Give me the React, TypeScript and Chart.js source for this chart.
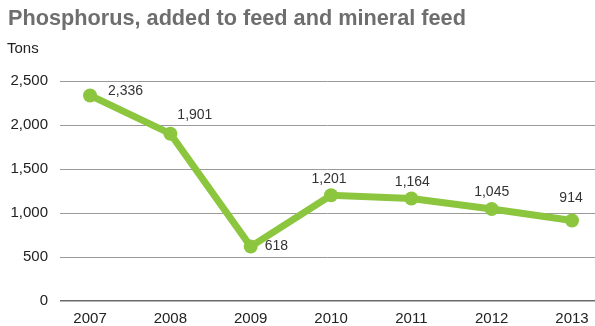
import React, { useEffect, useRef } from "react";
import { Chart, registerables } from "chart.js";

Chart.register(...registerables);

const years = ["2007", "2008", "2009", "2010", "2011", "2012", "2013"];
const phosphorusTons = [2336, 1901, 618, 1201, 1164, 1045, 914];
const valueLabels = ["2,336", "1,901", "618", "1,201", "1,164", "1,045", "914"];
const yTicks = [0, 500, 1000, 1500, 2000, 2500];

const title = "Phosphorus, added to feed and mineral feed";
const unitLabel = "Tons";

// label placement (style): [dx, dy, align]
const labelOffsets: [number, number, CanvasTextAlign][] = [
  [18, -4, "left"],
  [7, -19, "left"],
  [14, 0, "left"],
  [-2, -16, "center"],
  [1, -16, "center"],
  [0, -17, "center"],
  [-1, -22, "center"],
];

const FONT = "'Liberation Sans', Arial, Helvetica, sans-serif";

const labelPlugin = {
  id: "valueLabels",
  afterDatasetsDraw(chart: any) {
    const meta = chart.getDatasetMeta(0);
    const ctx = chart.ctx;
    ctx.save();
    ctx.font = `14px ${FONT}`;
    ctx.fillStyle = "#333333";
    ctx.textBaseline = "middle";
    meta.data.forEach((pt: any, i: number) => {
      const [dx, dy, align] = labelOffsets[i];
      ctx.textAlign = align;
      ctx.fillText(valueLabels[i], pt.x + dx, pt.y + dy);
    });
    ctx.restore();
  },
};

export default function App() {
  const ref = useRef<HTMLCanvasElement>(null);
  useEffect(() => {
    if (!ref.current) return;
    const chart = new Chart(ref.current, {
      type: "line",
      data: {
        datasets: [
          {
            data: years.map((y, i) => ({ x: Number(y), y: phosphorusTons[i] })),
            borderColor: "#8cc63f",
            backgroundColor: "#8cc63f",
            borderWidth: 7,
            pointRadius: 7,
            pointBackgroundColor: "#8cc63f",
            pointBorderWidth: 0,
            tension: 0,
            clip: false,
          },
        ],
      },
      options: {
        animation: false,
        responsive: false,
        maintainAspectRatio: false,
        layout: { autoPadding: false, padding: { top: 81, right: 0, bottom: 0, left: 0 } },
        plugins: { legend: { display: false }, tooltip: { enabled: false }, title: { display: false } },
        scales: {
          x: {
            type: "linear",
            min: 2006.626,
            max: 2013.286,
            afterFit: (s: any) => {
              s.height = 25;
              s.paddingLeft = 0;
              s.paddingRight = 0;
            },
            grid: { display: false, drawTicks: false },
            border: { display: false },
            ticks: {
              stepSize: 1,
              includeBounds: false,
              padding: 9,
              maxRotation: 0,
              color: "#222222",
              font: { family: FONT, size: 15 },
              callback: (v: any) => String(v),
            },
          },
          y: {
            min: 0,
            max: 2500,
            afterFit: (s: any) => {
              s.width = 60;
              s.paddingTop = 0;
              s.paddingBottom = 0;
            },
            afterBuildTicks: (s: any) => {
              s.ticks = yTicks.map((v) => ({ value: v }));
            },
            border: { display: false },
            grid: {
              drawTicks: false,
              color: (c: any) => (c.tick && c.tick.value === 0 ? "#6a6a6a" : "#9a9a9a"),
              lineWidth: (c: any) => (c.tick && c.tick.value === 0 ? 1.5 : 1),
            },
            ticks: {
              padding: 12,
              color: "#222222",
              font: { family: FONT, size: 15 },
              callback: (v: any) => Number(v).toLocaleString("en-US"),
            },
          },
        },
      },
      plugins: [labelPlugin],
    });
    return () => chart.destroy();
  }, []);

  return (
    <div style={{ position: "fixed", left: 0, top: 0, width: 595, height: 326, background: "#fff" }}>
      <canvas ref={ref} width={595} height={326} style={{ position: "absolute", left: 0, top: 0 }} />
      <div
        style={{
          position: "absolute",
          left: 8,
          top: 5,
          fontFamily: FONT,
          fontWeight: "bold",
          fontSize: 21.7,
          color: "#6e6e6e",
          whiteSpace: "nowrap",
          lineHeight: "26px",
        }}
      >
        {title}
      </div>
      <div
        style={{
          position: "absolute",
          left: 7,
          top: 39,
          fontFamily: FONT,
          fontSize: 15,
          color: "#222222",
          lineHeight: "18px",
        }}
      >
        {unitLabel}
      </div>
    </div>
  );
}
